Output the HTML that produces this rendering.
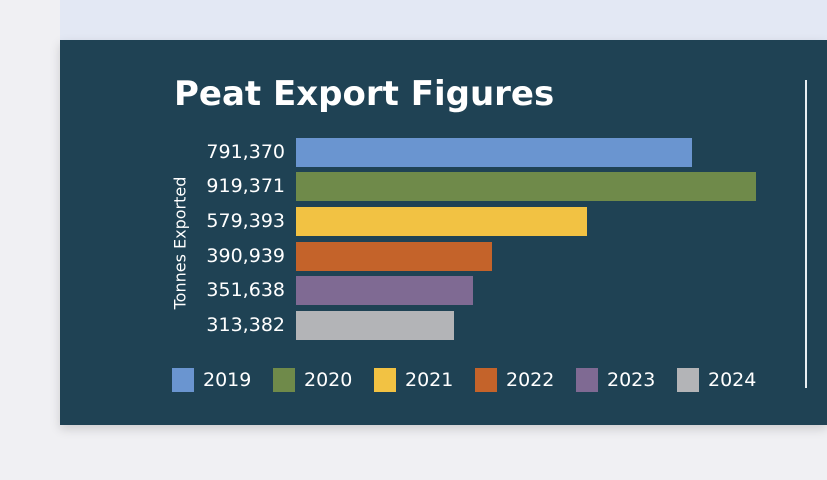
<!DOCTYPE html><html><head><style>
body{margin:0;width:827px;height:480px;background:#f0f0f3;position:relative;overflow:hidden;font-family:"DejaVu Sans","Liberation Sans",sans-serif}
.top{position:absolute;left:60px;top:0;width:767px;height:40px;background:#e3e8f4}
.panel{position:absolute;left:60px;top:40px;width:767px;height:385px;background:#1f4254;box-shadow:0 4px 10px rgba(0,0,0,.15)}
.t{position:absolute;color:#fff}
.bar{position:absolute;left:296px;height:29px}
.lab{position:absolute;width:200px;left:85px;text-align:right;color:#fff;font-size:19px;line-height:29px}
.sq{position:absolute;top:368px;width:22px;height:24px}
.lg{position:absolute;top:366px;color:#fff;font-size:19px;line-height:28px}
</style></head><body>
<div class="top"></div><div class="panel"></div>
<div class="t" style="left:174px;top:74px;font-size:34px;font-weight:bold">Peat Export Figures</div>
<div class="t" style="left:180px;top:243px;font-size:16px;transform:translate(-50%,-50%) rotate(-90deg);white-space:nowrap">Tonnes Exported</div>
<div style="position:absolute;left:805px;top:80px;width:2px;height:308px;background:#e8eef2"></div>
<div class="bar" style="top:138px;width:396px;background:#6a95d0"></div><div class="lab" style="top:138px">791,370</div>
<div class="bar" style="top:172px;width:460px;background:#6f8a4a"></div><div class="lab" style="top:172px">919,371</div>
<div class="bar" style="top:207px;width:291px;background:#f2c243"></div><div class="lab" style="top:207px">579,393</div>
<div class="bar" style="top:242px;width:196px;background:#c4632a"></div><div class="lab" style="top:242px">390,939</div>
<div class="bar" style="top:276px;width:177px;background:#7f6a93"></div><div class="lab" style="top:276px">351,638</div>
<div class="bar" style="top:311px;width:158px;background:#b3b4b7"></div><div class="lab" style="top:311px">313,382</div>
<div class="sq" style="left:172px;background:#6a95d0"></div><div class="lg" style="left:203px">2019</div>
<div class="sq" style="left:273px;background:#6f8a4a"></div><div class="lg" style="left:304px">2020</div>
<div class="sq" style="left:374px;background:#f2c243"></div><div class="lg" style="left:405px">2021</div>
<div class="sq" style="left:475px;background:#c4632a"></div><div class="lg" style="left:506px">2022</div>
<div class="sq" style="left:576px;background:#7f6a93"></div><div class="lg" style="left:607px">2023</div>
<div class="sq" style="left:677px;background:#b3b4b7"></div><div class="lg" style="left:708px">2024</div>
</body></html>
